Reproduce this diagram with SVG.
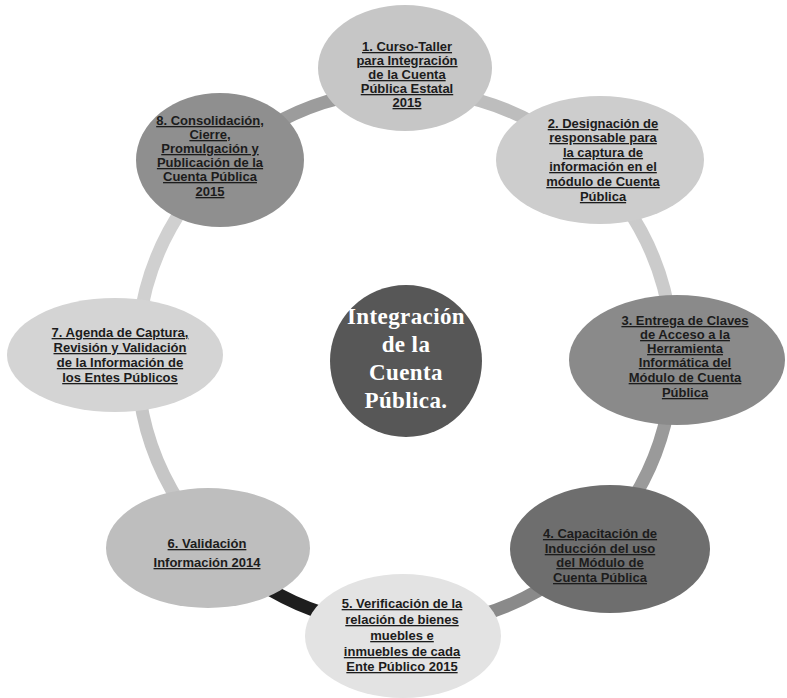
<svg xmlns="http://www.w3.org/2000/svg" width="787" height="698" viewBox="0 0 787 698">
<style>
.c{fill:none;stroke-width:13;stroke-linecap:butt}
.t{font-family:"Liberation Sans",Arial,sans-serif;font-weight:bold;font-size:13px;fill:#1c1c1c;text-anchor:middle;text-decoration:underline}
.m{font-family:"Liberation Serif","Times New Roman",serif;font-weight:bold;font-size:23px;letter-spacing:0.4px;fill:#ffffff;text-anchor:middle}
</style>
<rect width="787" height="698" fill="#ffffff"/>
<g id="connectors">
<path class="c" stroke="#bdbdbd" d="M446.9 93.3 A268 268 0 0 1 566.3 144"/>
<path class="c" stroke="#cbcbcb" d="M624.5 204.3 A268 268 0 0 1 671 325.3"/>
<path class="c" stroke="#9a9a9a" d="M670.4 395.3 A268 268 0 0 1 621.8 515.5"/>
<path class="c" stroke="#8a8a8a" d="M566.3 572 A268 268 0 0 1 446.9 622.7"/>
<path class="c" stroke="#1e1e1e" d="M372.3 624 A268 268 0 0 1 251.3 577.5"/>
<path class="c" stroke="#c6c6c6" d="M180.2 504 A268 268 0 0 1 138 381.4"/>
<path class="c" stroke="#d0d0d0" d="M139 325.3 A268 268 0 0 1 185.5 204.3"/>
<path class="c" stroke="#9c9c9c" d="M251.3 138.5 A268 268 0 0 1 372.3 92"/>
</g>
<g id="center">
<circle cx="406" cy="361" r="76" fill="#575757"/>
<text class="m" x="406" y="324">Integración</text>
<text class="m" x="406" y="352">de la</text>
<text class="m" x="406" y="380">Cuenta</text>
<text class="m" x="406" y="408">Pública.</text>
</g>
<g id="n1">
<ellipse cx="405" cy="68" rx="87" ry="63" fill="#c6c6c6"/>
<text class="t" x="407" y="51">1. Curso-Taller</text>
<text class="t" x="407" y="65">para  Integración</text>
<text class="t" x="407" y="79">de la Cuenta</text>
<text class="t" x="407" y="93">Pública Estatal</text>
<text class="t" x="407" y="107">2015</text>
</g>
<g id="n2">
<ellipse cx="600" cy="160" rx="104" ry="64" fill="#cdcdcd"/>
<text class="t" x="603" y="128">2. Designación de</text>
<text class="t" x="603" y="142">responsable para</text>
<text class="t" x="603" y="157">la captura de</text>
<text class="t" x="603" y="171">información en el</text>
<text class="t" x="603" y="186">módulo de Cuenta</text>
<text class="t" x="603" y="201">Pública</text>
</g>
<g id="n3">
<ellipse cx="677" cy="360" rx="108" ry="65" fill="#8a8a8a"/>
<text class="t" x="685" y="325">3. Entrega de Claves</text>
<text class="t" x="685" y="339">de Acceso a la</text>
<text class="t" x="685" y="353">Herramienta</text>
<text class="t" x="685" y="367">Informática del</text>
<text class="t" x="685" y="382">Módulo de Cuenta</text>
<text class="t" x="685" y="397">Pública</text>
</g>
<g id="n4">
<ellipse cx="610" cy="549" rx="100" ry="64" fill="#6e6e6e"/>
<text class="t" x="600" y="538">4. Capacitación  de</text>
<text class="t" x="600" y="553">Inducción del uso</text>
<text class="t" x="600" y="567">del Módulo de</text>
<text class="t" x="600" y="582">Cuenta Pública</text>
</g>
<g id="n5">
<ellipse cx="403" cy="636" rx="98" ry="62" fill="#e3e3e3"/>
<text class="t" x="402" y="608">5. Verificación de la</text>
<text class="t" x="402" y="624">relación de  bienes</text>
<text class="t" x="402" y="640">muebles e</text>
<text class="t" x="402" y="656">inmuebles de cada</text>
<text class="t" x="402" y="671">Ente Público 2015</text>
</g>
<g id="n6">
<ellipse cx="208" cy="548" rx="102" ry="60" fill="#bebebe"/>
<text class="t" x="207" y="548">6. Validación</text>
<text class="t" x="207" y="567">Información 2014</text>
</g>
<g id="n7">
<ellipse cx="115" cy="355" rx="108" ry="57" fill="#d4d4d4"/>
<text class="t" x="120" y="337">7. Agenda de Captura,</text>
<text class="t" x="120" y="352">Revisión y Validación</text>
<text class="t" x="120" y="367">de la Información de</text>
<text class="t" x="120" y="382">los Entes Públicos</text>
</g>
<g id="n8">
<ellipse cx="220" cy="160" rx="84" ry="67" fill="#8f8f8f"/>
<text class="t" x="210" y="125">8. Consolidación,</text>
<text class="t" x="210" y="139">Cierre,</text>
<text class="t" x="210" y="153">Promulgación y</text>
<text class="t" x="210" y="167">Publicación de la</text>
<text class="t" x="210" y="181">Cuenta Pública</text>
<text class="t" x="210" y="196">2015</text>
</g>
</svg>
